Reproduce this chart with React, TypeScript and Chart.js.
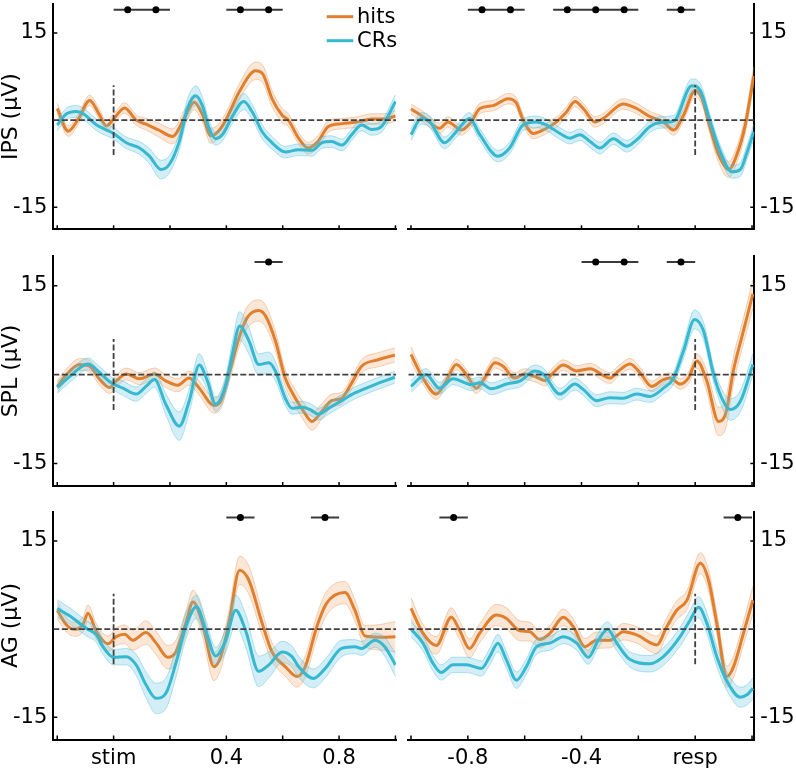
import React, { useEffect, useRef } from 'react';
import { Chart, registerables } from 'chart.js';

Chart.register(...registerables);

// ---------- tick definitions ----------
const STIM_TICKS = [-0.2, 0, 0.2, 0.4, 0.6, 0.8, 1.0];
const STIM_LABELS = ['', 'stim', '', '0.4', '', '0.8', ''];
const RESP_TICKS = [-1.0, -0.8, -0.6, -0.4, -0.2, 0, 0.2];
const RESP_LABELS = ['', '-0.8', '', '-0.4', '', 'resp', ''];
const Y_TICKS = [-15, 15];
const ROW_TITLES = ['IPS (μV)', 'SPL (μV)', 'AG (μV)'];
const SERIES_NAMES = ['hits', 'CRs'];
const SIG_LEVEL = 19; // μV, height of significance markers
const SIG_HALF = 0.05; // s, half-width of significance bars
const ONSET_MARK = [-6, 6]; // μV extent of dashed onset line

// ---------- data: [time (s), mean (μV), band half-width (μV)] ----------
const ipsStimHits = [
  [-0.2, 2.0, 0.9], [-0.161, -1.9, 0.9], [-0.125, 0.2, 0.9], [-0.085, 3.4, 0.9], [-0.05, 0.9, 0.9],
  [-0.026, -1.0, 0.9], [0.0, 0.2, 0.9], [0.039, 2.1, 0.9], [0.08, 0.0, 0.9], [0.115, -0.7, 1.0],
  [0.16, -1.7, 1.2], [0.209, -2.8, 1.3], [0.256, 0.85, 1.3], [0.286, 3.1, 1.3], [0.315, 1.0, 1.3],
  [0.345, -2.7, 1.3], [0.37, -2.0, 1.2], [0.398, 0.0, 1.2], [0.445, 4.8, 1.4], [0.504, 8.5, 1.5],
  [0.53, 7.9, 1.5], [0.562, 3.7, 1.4], [0.598, 0.85, 1.2], [0.62, 0.0, 1.1], [0.656, -3.1, 1.0],
  [0.69, -4.8, 1.0], [0.725, -3.7, 1.0], [0.762, -1.1, 1.0], [0.81, -0.6, 0.9], [0.868, -0.3, 0.9],
  [0.915, 0.2, 0.9], [0.96, 0.2, 0.9], [1.0, 0.7, 0.9],
];
const ipsStimCrs = [
  [-0.2, -0.85, 1.0], [-0.167, 1.1, 1.0], [-0.132, 1.5, 1.0], [-0.108, 1.1, 1.0], [-0.06, -0.85, 1.0],
  [0, -2.3, 1.0], [0.045, -3.9, 1.0], [0.092, -4.8, 1.1], [0.127, -6.2, 1.3], [0.168, -8.5, 1.6],
  [0.198, -7.6, 1.5], [0.233, -3.7, 1.4], [0.262, 2.0, 1.6], [0.292, 4.2, 1.7], [0.315, 2.5, 1.5],
  [0.339, -1.4, 1.3], [0.362, -3.2, 1.1], [0.386, -2.5, 1.1], [0.421, 0.6, 1.2], [0.462, 3.2, 1.4],
  [0.492, 1.4, 1.3], [0.527, -2.0, 1.2], [0.562, -3.9, 1.1], [0.609, -5.5, 1.0], [0.656, -5.1, 1.0],
  [0.704, -5.2, 1.0], [0.739, -3.9, 1.0], [0.774, -3.7, 1.0], [0.81, -4.3, 1.0], [0.845, -2.5, 1.0],
  [0.88, -0.85, 1.0], [0.915, -1.6, 1.0], [0.95, -1.1, 1.0], [1.0, 3.2, 1.2],
];
const ipsRespHits = [
  [-1.0, 1.9, 0.9], [-0.958, 0.6, 0.9], [-0.899, -1.4, 0.9], [-0.87, -0.3, 0.9], [-0.823, -1.7, 0.9],
  [-0.788, -0.3, 0.9], [-0.758, 2.0, 0.9], [-0.711, 2.5, 0.9], [-0.658, 3.7, 0.9], [-0.63, 3.0, 0.9],
  [-0.605, 0.0, 0.9], [-0.57, -2.3, 0.9], [-0.535, -1.7, 0.9], [-0.488, -0.3, 0.9], [-0.453, 1.4, 0.9],
  [-0.423, 3.2, 0.9], [-0.394, 2.0, 0.9], [-0.353, -0.3, 0.9], [-0.323, 0.3, 0.9], [-0.253, 2.8, 0.9],
  [-0.206, 2.0, 0.9], [-0.159, 0.6, 0.9], [-0.112, -0.3, 0.9], [-0.076, -1.7, 0.9], [-0.041, 0.85, 1.0],
  [0, 5.1, 1.1], [0.024, 3.7, 1.1], [0.053, -1.4, 1.2], [0.082, -5.9, 1.3], [0.118, -8.5, 1.4],
  [0.147, -5.9, 1.4], [0.176, -0.85, 1.5], [0.206, 7.6, 1.6],
];
const ipsRespCrs = [
  [-1.0, -2.5, 1.0], [-0.964, 0.3, 1.0], [-0.935, -0.2, 1.0], [-0.882, -3.9, 1.0], [-0.841, -2.0, 1.0],
  [-0.794, 0.3, 1.0], [-0.758, -2.5, 1.0], [-0.694, -6.2, 1.0], [-0.653, -4.8, 1.0], [-0.606, -0.85, 1.0],
  [-0.558, -0.3, 1.0], [-0.523, -0.85, 1.0], [-0.476, -2.3, 1.0], [-0.441, -3.1, 1.0], [-0.406, -2.5, 1.0],
  [-0.37, -3.7, 1.0], [-0.335, -4.8, 1.0], [-0.288, -3.2, 1.0], [-0.241, -4.5, 1.0], [-0.206, -3.4, 1.0],
  [-0.159, -1.1, 1.0], [-0.123, -0.4, 1.0], [-0.076, -0.2, 1.0], [-0.012, 5.9, 1.2], [0.018, 5.1, 1.2],
  [0.053, -0.3, 1.1], [0.088, -5.4, 1.1], [0.129, -8.9, 1.1], [0.159, -8.5, 1.2], [0.182, -5.6, 1.2],
  [0.206, -2.0, 1.3],
];
const splStimHits = [
  [-0.2, -2.0, 1.0], [-0.167, 0, 1.0], [-0.12, 1.7, 1.0], [-0.085, 1.4, 1.0], [-0.049, -0.85, 1.0],
  [-0.014, -2.2, 1.0], [0.009, -1.1, 1.0], [0.045, 0.1, 1.0], [0.092, -0.7, 1.0], [0.145, 0.1, 1.0],
  [0.186, -1.1, 1.1], [0.227, -1.8, 1.1], [0.268, -0.6, 1.2], [0.304, -2.3, 1.2], [0.356, -5.2, 1.3],
  [0.38, -4.5, 1.3], [0.409, 0, 1.4], [0.445, 6.2, 1.6], [0.474, 9.6, 1.8], [0.515, 10.8, 1.8],
  [0.539, 9.9, 1.8], [0.574, 5.7, 1.6], [0.609, -0.6, 1.4], [0.645, -4.0, 1.4], [0.674, -6.2, 1.5],
  [0.704, -7.9, 1.5], [0.739, -6.2, 1.3], [0.774, -4.4, 1.1], [0.809, -4.0, 1.0], [0.845, -1.4, 1.0],
  [0.88, 1.4, 1.1], [0.939, 2.5, 1.2], [0.998, 3.3, 1.2],
];
const splStimCrs = [
  [-0.2, -2.2, 1.0], [-0.155, -0.3, 1.0], [-0.091, 1.8, 1.0], [-0.049, 0.3, 1.0], [-0.008, -1.4, 1.0],
  [0.033, -2.3, 1.2], [0.08, -3.3, 1.2], [0.115, -2.0, 1.2], [0.145, -0.85, 1.3], [0.186, -5.1, 1.8],
  [0.233, -8.7, 2.4], [0.268, -4.5, 2.0], [0.304, 1.6, 1.9], [0.333, -1.1, 1.5], [0.362, -5.0, 1.2],
  [0.398, -1.7, 1.5], [0.421, 3.4, 2.0], [0.447, 8.2, 2.4], [0.48, 5.7, 2.2], [0.515, 1.7, 1.8],
  [0.551, 2.0, 1.8], [0.574, 0.6, 1.6], [0.609, -4.0, 1.2], [0.633, -5.7, 1.0], [0.668, -5.5, 1.0],
  [0.698, -5.9, 1.0], [0.727, -6.7, 1.0], [0.762, -5.7, 1.0], [0.809, -4.4, 1.0], [0.856, -3.1, 1.0],
  [0.927, -1.7, 1.0], [0.998, -0.45, 1.0],
];
const splRespHits = [
  [-1.0, 3.4, 1.3], [-0.958, -0.6, 1.0], [-0.911, -3.3, 0.9], [-0.876, -1.1, 0.9], [-0.841, 1.7, 0.9],
  [-0.805, 0, 0.9], [-0.77, -2.3, 0.9], [-0.741, -0.6, 0.9], [-0.705, 2.0, 0.9], [-0.676, 1.4, 0.9],
  [-0.635, -0.6, 0.9], [-0.6, 0.1, 0.9], [-0.558, -0.45, 0.9], [-0.529, -1.0, 0.9], [-0.5, 0.3, 0.9],
  [-0.464, 1.6, 0.9], [-0.417, 0.6, 0.9], [-0.37, 1.0, 0.9], [-0.3, -0.6, 0.9], [-0.27, 0.6, 0.9],
  [-0.229, 1.8, 0.9], [-0.194, 0.3, 0.9], [-0.153, -2.0, 0.9], [-0.112, -0.85, 0.9], [-0.088, -0.6, 0.9],
  [-0.053, -1.6, 0.9], [-0.024, -0.6, 1.0], [0.006, 2.3, 1.2], [0.041, -1.1, 1.8], [0.082, -7.9, 2.4],
  [0.106, -6.8, 2.5], [0.135, 0.8, 2.3], [0.17, 7.4, 2.2], [0.203, 13.6, 2.4],
];
const splRespCrs = [
  [-1.0, -2.0, 1.0], [-0.947, 0, 1.0], [-0.9, -2.3, 1.0], [-0.852, -0.7, 1.0], [-0.788, -1.7, 1.0],
  [-0.758, -1.4, 1.0], [-0.717, -2.4, 1.0], [-0.664, -1.6, 1.0], [-0.617, -1.1, 1.0], [-0.564, 0.6, 1.0],
  [-0.535, 0.1, 1.0], [-0.476, -3.3, 1.0], [-0.423, -1.6, 1.0], [-0.394, -2.5, 1.0], [-0.347, -4.4, 1.0],
  [-0.3, -3.9, 1.0], [-0.253, -4.0, 1.0], [-0.206, -3.3, 1.0], [-0.159, -3.7, 1.0], [-0.112, -2.3, 1.0],
  [-0.076, -0.6, 1.0], [-0.041, 4.0, 1.3], [-0.002, 9.3, 1.6], [0.029, 7.4, 1.5], [0.065, 0, 1.3],
  [0.094, -4.0, 1.5], [0.123, -5.9, 1.8], [0.159, -4.5, 1.8], [0.203, 1.7, 1.8],
];
const agStimHits = [
  [-0.2, 3.2, 1.5], [-0.167, 0.7, 1.2], [-0.138, -0.05, 1.2], [-0.108, 0.85, 1.3], [-0.091, 2.7, 1.4],
  [-0.061, -0.45, 1.3], [-0.02, -2.5, 1.3], [0.009, -1.3, 1.5], [0.039, -0.9, 1.6], [0.068, -1.9, 1.7],
  [0.115, -0.6, 2.0], [0.151, -2.4, 2.0], [0.192, -4.8, 2.0], [0.221, -3.9, 2.0], [0.256, 1.0, 2.0],
  [0.282, 4.6, 2.0], [0.315, 1.0, 2.2], [0.356, -6.4, 2.4], [0.38, -4.7, 2.2], [0.409, 1.0, 2.0],
  [0.447, 10.0, 2.4], [0.48, 8.3, 2.4], [0.527, 1.0, 2.0], [0.562, -3.9, 1.6], [0.609, -6.4, 1.6],
  [0.651, -8.1, 1.8], [0.68, -6.4, 1.8], [0.721, 0.4, 2.0], [0.756, 4.4, 2.0], [0.821, 6.2, 1.9],
  [0.856, 3.2, 1.8], [0.892, -1.2, 1.8], [0.951, -1.4, 2.2], [1.0, -1.3, 2.6],
];
const agStimCrs = [
  [-0.2, 3.5, 1.5], [-0.155, 2.2, 1.4], [-0.096, 0.1, 1.3], [-0.061, -1.0, 1.3], [-0.038, -3.0, 1.3],
  [0, -4.8, 1.3], [0.045, -4.7, 1.4], [0.08, -6.1, 1.8], [0.115, -9.5, 2.2], [0.151, -11.8, 2.6],
  [0.186, -10.9, 2.6], [0.221, -5.8, 2.4], [0.256, 0.4, 2.2], [0.294, 3.8, 2.0], [0.327, -0.2, 1.8],
  [0.362, -4.6, 1.5], [0.398, -1.9, 2.0], [0.433, 3.2, 2.6], [0.468, -0.2, 2.8], [0.515, -7.2, 2.6],
  [0.551, -6.1, 2.2], [0.598, -3.9, 1.8], [0.633, -4.7, 1.8], [0.656, -6.4, 1.8], [0.709, -8.4, 1.6],
  [0.751, -6.7, 1.6], [0.809, -3.3, 1.4], [0.856, -3.0, 1.2], [0.88, -3.3, 1.2], [0.927, -1.9, 1.2],
  [0.962, -3.0, 1.6], [1.0, -6.1, 2.0],
];
const agRespHits = [
  [-1.0, 3.5, 1.8], [-0.958, -0.7, 1.5], [-0.911, -2.8, 1.5], [-0.858, 2.0, 1.6], [-0.829, -0.2, 1.6],
  [-0.794, -3.3, 1.6], [-0.758, -0.7, 1.6], [-0.7, 2.4, 1.8], [-0.664, 1.8, 1.8], [-0.617, -0.3, 1.7],
  [-0.582, -0.45, 1.6], [-0.547, -1.8, 1.4], [-0.511, -0.7, 1.3], [-0.464, 2.0, 1.4], [-0.429, 0.4, 1.3],
  [-0.388, -3.0, 1.4], [-0.347, -1.9, 1.4], [-0.3, -1.9, 1.3], [-0.253, -0.45, 1.4], [-0.206, -1.0, 1.4],
  [-0.135, -2.7, 1.5], [-0.1, 0.4, 1.5], [-0.065, 3.2, 1.6], [-0.029, 4.9, 1.6], [0.018, 11.2, 1.8],
  [0.047, 8.3, 1.8], [0.076, 1.0, 1.8], [0.112, -8.1, 1.8], [0.135, -6.4, 1.8], [0.17, -0.7, 2.0],
  [0.203, 4.9, 2.4],
];
const agRespCrs = [
  [-1.0, 0, 1.3], [-0.958, -2.4, 1.3], [-0.923, -5.8, 1.3], [-0.894, -7.4, 1.3], [-0.852, -6.1, 1.3],
  [-0.805, -6.1, 1.3], [-0.752, -6.7, 1.3], [-0.723, -4.7, 1.4], [-0.694, -2.4, 1.5], [-0.664, -5.3, 1.4],
  [-0.629, -8.7, 1.4], [-0.594, -6.4, 1.3], [-0.558, -3.0, 1.3], [-0.511, -2.4, 1.2], [-0.464, -1.3, 1.2],
  [-0.417, -2.4, 1.2], [-0.376, -4.8, 1.2], [-0.341, -1.9, 1.3], [-0.308, -0.05, 1.3], [-0.276, -2.4, 1.3],
  [-0.229, -5.2, 1.3], [-0.159, -5.9, 1.4], [-0.112, -4.7, 1.5], [-0.053, -1.3, 1.6], [-0.018, 1.5, 1.7],
  [0.012, 3.7, 1.8], [0.041, 1.0, 1.8], [0.076, -4.7, 1.7], [0.112, -8.9, 1.6], [0.159, -11.6, 1.7],
  [0.182, -11.2, 1.7], [0.203, -10.1, 1.8],
];

// significance marker centres (s)
const ipsStimSig = [0.05, 0.15, 0.45, 0.55];
const ipsRespSig = [-0.75, -0.65, -0.45, -0.35, -0.25, -0.05];
const splStimSig = [0.55];
const splRespSig = [-0.35, -0.25, -0.05];
const agStimSig = [0.45, 0.75];
const agRespSig = [-0.85, 0.15];

// ---------- styling / layout ----------
const FONT = 'DejaVu Sans';
const HITS_COLOR = '#e07f2e';
const CRS_COLOR = '#35b8d0';
const HITS_FILL = 'rgba(242, 170, 110, 0.28)';
const CRS_FILL = 'rgba(110, 200, 225, 0.30)';
const HITS_EDGE = 'rgba(226, 135, 60, 0.45)';
const CRS_EDGE = 'rgba(50, 180, 210, 0.45)';
const DASH_COLOR = '#404040';
const DASH = [6, 2.5];

const ROW_GEOM = [
  { top: 0, h: 250, padTop: 0, xH: 20.7 },
  { top: 250, h: 255, padTop: 6, xH: 19 },
  { top: 505, h: 265, padTop: 6.5, xH: 30.5 },
];
const SIDE_GEOM = {
  stim: { left: 0, w: 400, yW: 53.3, padLeft: 0, padRight: 2.5, yPos: 'left', min: -0.214, max: 1.002 },
  resp: { left: 400, w: 396, yW: 41.7, padLeft: 8.3, padRight: 0, yPos: 'right', min: -1.0095, max: 0.208 },
};

const PANELS = [
  { row: 0, side: 'stim', hits: ipsStimHits, crs: ipsStimCrs, sig: ipsStimSig },
  { row: 0, side: 'resp', hits: ipsRespHits, crs: ipsRespCrs, sig: ipsRespSig },
  { row: 1, side: 'stim', hits: splStimHits, crs: splStimCrs, sig: splStimSig },
  { row: 1, side: 'resp', hits: splRespHits, crs: splRespCrs, sig: splRespSig },
  { row: 2, side: 'stim', hits: agStimHits, crs: agStimCrs, sig: agStimSig },
  { row: 2, side: 'resp', hits: agRespHits, crs: agRespCrs, sig: agRespSig },
];

const inwardTicks = {
  id: 'inwardTicks',
  afterDraw(chart: any) {
    const { ctx, chartArea } = chart;
    const xs = chart.scales.x;
    const ys = chart.scales.y;
    ctx.save();
    ctx.strokeStyle = '#000';
    ctx.lineWidth = 1.5;
    ctx.beginPath();
    xs.ticks.forEach((t: any) => {
      const px = xs.getPixelForValue(t.value);
      ctx.moveTo(px, chartArea.bottom);
      ctx.lineTo(px, chartArea.bottom - 4);
    });
    const left = ys.options.position === 'left';
    const edge = left ? chartArea.left : chartArea.right;
    ys.ticks.forEach((t: any) => {
      const py = ys.getPixelForValue(t.value);
      ctx.moveTo(edge, py);
      ctx.lineTo(edge + (left ? 4 : -4), py);
    });
    ctx.stroke();
    ctx.restore();
  },
};

const lineLegend = {
  id: 'lineLegend',
  afterDraw(chart: any) {
    const { ctx } = chart;
    const items = [
      { label: SERIES_NAMES[0], color: HITS_COLOR, y: 16.7 },
      { label: SERIES_NAMES[1], color: CRS_COLOR, y: 40.7 },
    ];
    ctx.save();
    items.forEach((it) => {
      ctx.strokeStyle = it.color;
      ctx.lineWidth = 3;
      ctx.beginPath();
      ctx.moveTo(326.7, it.y);
      ctx.lineTo(353.3, it.y);
      ctx.stroke();
      ctx.fillStyle = '#000';
      ctx.font = `21px "${FONT}"`;
      ctx.textBaseline = 'middle';
      ctx.textAlign = 'left';
      ctx.fillText(it.label, 357, it.y + 1);
    });
    ctx.restore();
  },
};

function toPts(series: number[][], k: number) {
  return series.map(([t, v, s]) => ({ x: t, y: v + k * s }));
}

function buildConfig(p: any, index: number) {
  const rg = ROW_GEOM[p.row];
  const sg = (SIDE_GEOM as any)[p.side];
  const ticks = p.side === 'stim' ? STIM_TICKS : RESP_TICKS;
  const labels = p.side === 'stim' ? STIM_LABELS : RESP_LABELS;
  const bottomRow = p.row === 2;

  const sigBars: any[] = [];
  p.sig.forEach((c: number) => {
    sigBars.push({ x: c - SIG_HALF, y: SIG_LEVEL }, { x: c + SIG_HALF, y: SIG_LEVEL }, { x: c + SIG_HALF, y: null });
  });
  const sigDots = p.sig.map((c: number) => ({ x: c, y: SIG_LEVEL }));

  const mainLine = (series: number[][], color: string, label: string) => ({
    label,
    data: toPts(series, 0),
    borderColor: color,
    borderWidth: 3,
    pointRadius: 0,
    fill: false,
    cubicInterpolationMode: 'monotone',
  });
  const bandEdge = (series: number[][], k: number, edge: string, fillColor: string | null, label: string) => ({
    label,
    data: toPts(series, k),
    borderColor: edge,
    borderWidth: 0.8,
    pointRadius: 0,
    backgroundColor: fillColor || 'transparent',
    fill: fillColor ? '+1' : false,
    cubicInterpolationMode: 'monotone',
  });

  const datasets = [
    { label: 'sig-dots', data: sigDots, showLine: false, pointRadius: 3.5, pointBackgroundColor: '#000', pointBorderWidth: 0, borderColor: '#000' },
    { label: 'sig-bars', data: sigBars, borderColor: '#3a3a3a', borderWidth: 2, pointRadius: 0, spanGaps: false, fill: false },
    { label: 'zero', data: [{ x: sg.min, y: 0 }, { x: sg.max, y: 0 }], borderColor: DASH_COLOR, borderWidth: 1.8, borderDash: DASH, pointRadius: 0, fill: false },
    { label: 'onset', data: [{ x: 0, y: ONSET_MARK[0] }, { x: 0, y: ONSET_MARK[1] }], borderColor: DASH_COLOR, borderWidth: 1.8, borderDash: DASH, pointRadius: 0, fill: false },
    mainLine(p.crs, CRS_COLOR, SERIES_NAMES[1]),
    bandEdge(p.crs, 1, CRS_EDGE, CRS_FILL, 'CRs+'),
    bandEdge(p.crs, -1, CRS_EDGE, null, 'CRs-'),
    mainLine(p.hits, HITS_COLOR, SERIES_NAMES[0]),
    bandEdge(p.hits, 1, HITS_EDGE, HITS_FILL, 'hits+'),
    bandEdge(p.hits, -1, HITS_EDGE, null, 'hits-'),
  ];

  const plugins: any[] = [inwardTicks];
  if (index === 0) plugins.push(lineLegend);

  return {
    type: 'line',
    data: { datasets },
    plugins,
    options: {
      responsive: false,
      animation: false,
      events: [],
      layout: { padding: { top: rg.padTop, left: sg.padLeft, right: sg.padRight, bottom: 0 } },
      plugins: { legend: { display: false }, tooltip: { enabled: false } },
      scales: {
        x: {
          type: 'linear',
          min: sg.min,
          max: sg.max,
          afterBuildTicks: (s: any) => { s.ticks = ticks.map((v) => ({ value: v })); },
          afterFit: (s: any) => { s.height = rg.xH; s.paddingLeft = 0; s.paddingRight = 0; },
          ticks: {
            autoSkip: false,
            maxRotation: 0,
            minRotation: 0,
            padding: 6,
            color: '#000',
            font: { family: FONT, size: 21 },
            callback: (_v: any, i: number) => (bottomRow ? labels[i] : ''),
          },
          grid: { display: false, drawTicks: false },
          border: { display: true, color: '#000', width: 2 },
        },
        y: {
          type: 'linear',
          position: sg.yPos,
          min: -18.8,
          max: 20,
          afterBuildTicks: (s: any) => { s.ticks = Y_TICKS.map((v) => ({ value: v })); },
          afterFit: (s: any) => { s.width = sg.yW; s.paddingTop = 0; s.paddingBottom = 0; },
          ticks: {
            padding: 6,
            color: '#000',
            font: { family: FONT, size: 21 },
            callback: (v: any) => String(v),
          },
          title: {
            display: p.side === 'stim',
            text: ROW_TITLES[p.row],
            color: '#000',
            font: { family: FONT, size: 22, lineHeight: 1 },
            padding: 0,
          },
          grid: { display: false, drawTicks: false },
          border: { display: true, color: '#000', width: 2 },
        },
      },
    },
  } as any;
}

export default function App() {
  const refs = useRef<(HTMLCanvasElement | null)[]>([]);
  useEffect(() => {
    const charts = PANELS.map((p, i) => new Chart(refs.current[i] as HTMLCanvasElement, buildConfig(p, i)));
    return () => charts.forEach((c) => c.destroy());
  }, []);
  return (
    <div style={{ position: 'absolute', left: 0, top: 0, width: 796, height: 770, background: '#fff' }}>
      {PANELS.map((p, i) => {
        const rg = ROW_GEOM[p.row];
        const sg = (SIDE_GEOM as any)[p.side];
        return (
          <canvas
            key={i}
            ref={(el) => { refs.current[i] = el; }}
            width={sg.w}
            height={rg.h}
            style={{ position: 'absolute', left: sg.left, top: rg.top, width: sg.w, height: rg.h }}
          />
        );
      })}
    </div>
  );
}
